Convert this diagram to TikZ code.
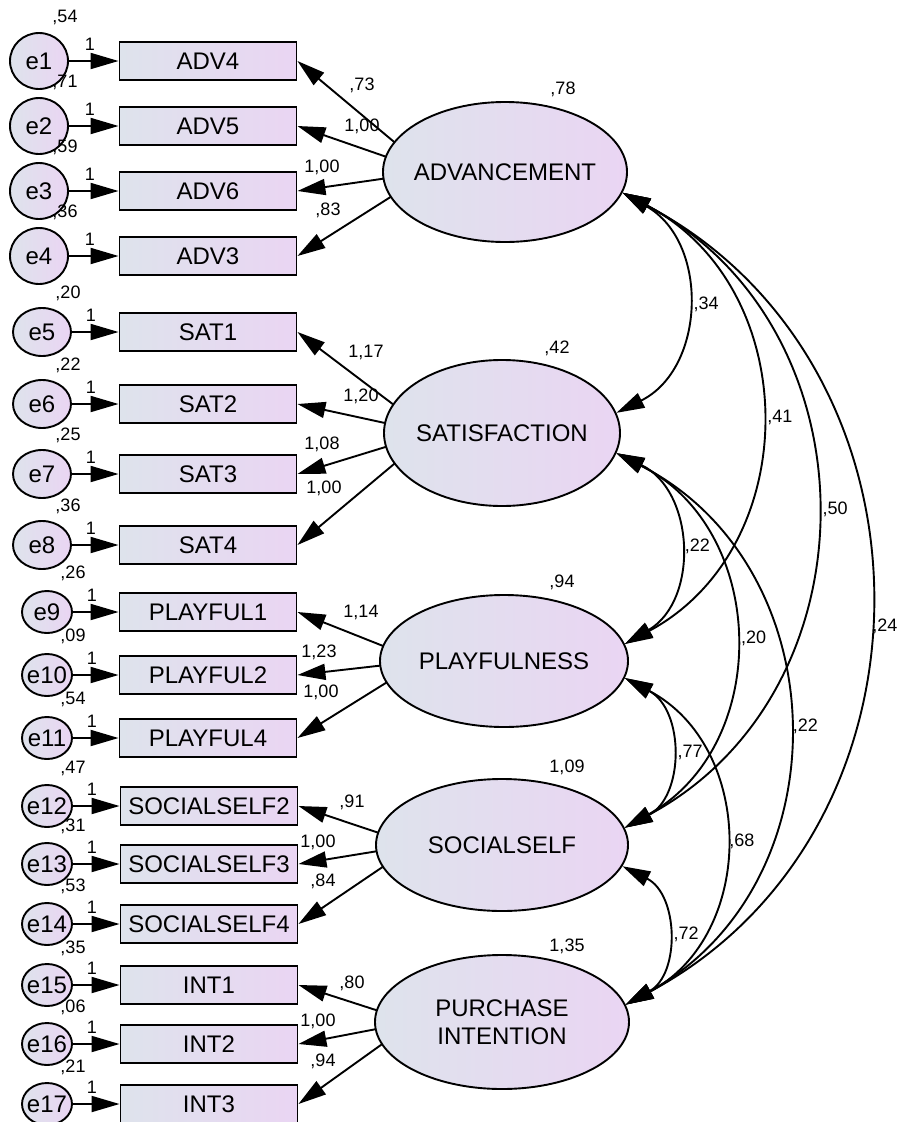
\documentclass[tikz,border=0pt]{standalone}
\usepackage{fontspec}
\setmainfont{Liberation Sans}
\usetikzlibrary{arrows.meta,shapes.geometric,backgrounds}
\definecolor{amosL}{RGB}{222,227,236}
\definecolor{amosR}{RGB}{234,213,243}
\begin{document}
\begin{tikzpicture}[x=1pt, y=-1pt,
    >={Triangle[length=28pt,width=16pt]},
    arr/.style={->, line width=1.9pt},
    cov/.style={<->, line width=1.9pt, bend left=62, looseness=1.16},
    ind/.style={draw, line width=1.9pt, minimum width=177pt, minimum height=38pt, inner sep=0pt,
        left color=amosL, right color=amosR, font=\fontsize{24}{28}\selectfont},
    lat/.style={draw, ellipse, line width=1.9pt, inner xsep=-10pt, inner ysep=0pt, align=center,
        left color=amosL, right color=amosR, font=\fontsize{24}{28}\selectfont},
    err/.style={draw, ellipse, line width=1.9pt, inner xsep=-10pt, inner ysep=0pt,
        left color=amosL, right color=amosR, font=\fontsize{24}{28}\selectfont},
    errA/.style={err, minimum width=58pt, minimum height=56pt},
    errB/.style={err, minimum width=58pt, minimum height=48pt},
    errC/.style={err, minimum width=50pt, minimum height=42pt},
    num/.style={inner sep=0pt, font=\fontsize{18}{20}\selectfont}]
    \useasboundingbox (0,0) rectangle (897,1122);

    % Latent factors
    \node[lat, minimum width=244pt, minimum height=140pt] (adv) at (505,172) {ADVANCEMENT};
    \node[lat, minimum width=236pt, minimum height=146pt] (sat) at (502,433) {SATISFACTION};
    \node[lat, minimum width=248pt, minimum height=132pt] (play) at (504,661) {PLAYFULNESS};
    \node[lat, minimum width=252pt, minimum height=132pt] (soc) at (502,845) {SOCIALSELF};
    \node[lat, minimum width=254pt, minimum height=134pt] (pur) at (502,1022) {PURCHASE\\INTENTION};
    \node[num] (vadv) at (563,89) {,78};
    \node[num] (vsat) at (557,348) {,42};
    \node[num] (vplay) at (562,582) {,94};
    \node[num] (vsoc) at (567,767) {1,09};
    \node[num] (vpur) at (567,946) {1,35};
    \coordinate (fadv) at (430,172);
    \coordinate (fsat) at (431,433);
    \coordinate (fplay) at (421,661);
    \coordinate (fsoc) at (415,845);
    \coordinate (fpur) at (413,1022);

    % ADVANCEMENT indicators
    \foreach \i/\y/\nm/\var/\ld/\lx/\ly in {1/61/ADV4/{,54}/{,73}/362/85, 2/126/ADV5/{,71}/{1,00}/362/126,
        3/191/ADV6/{,59}/{1,00}/322/167, 4/256/ADV3/{,36}/{,83}/328/210}{
        \node[errA] (e\i) at (39,\y) {e\i};
        \node[ind] (x\i) at (208,\y) {\nm};
        \node[num] (one\i) at (90,\y-17) {1};
        \node[num] (v\i) at (65,\y-44) {\var};
        \node[num] (l\i) at (\lx,\ly) {\ld};
        \draw[arr] (e\i) -- (x\i);
        \scoped[on background layer] \draw[arr] (fadv) -- (x\i.east);
    }

    % SATISFACTION indicators
    \foreach \i/\y/\nm/\var/\ld/\lx/\ly in {5/332/SAT1/{,20}/{1,17}/366/352, 6/404/SAT2/{,22}/{1,20}/361/396,
        7/474/SAT3/{,25}/{1,08}/322/444, 8/545/SAT4/{,36}/{1,00}/324/488}{
        \node[errB] (e\i) at (42,\y) {e\i};
        \node[ind] (x\i) at (208,\y) {\nm};
        \node[num] (one\i) at (91,\y-17) {1};
        \node[num] (v\i) at (68,\y-39) {\var};
        \node[num] (l\i) at (\lx,\ly) {\ld};
        \draw[arr] (e\i) -- (x\i);
        \scoped[on background layer] \draw[arr] (fsat) -- (x\i.east);
    }

    % PLAYFULNESS indicators
    \foreach \i/\y/\nm/\var/\ld/\lx/\ly in {9/612/PLAYFUL1/{,26}/{1,14}/361/612, 10/675/PLAYFUL2/{,09}/{1,23}/319/652,
        11/738/PLAYFUL4/{,54}/{1,00}/321/692}{
        \node[errC] (e\i) at (47,\y) {e\i};
        \node[ind] (x\i) at (208,\y) {\nm};
        \node[num] (one\i) at (92,\y-17) {1};
        \node[num] (v\i) at (73,\y-39) {\var};
        \node[num] (l\i) at (\lx,\ly) {\ld};
        \draw[arr] (e\i) -- (x\i);
        \scoped[on background layer] \draw[arr] (fplay) -- (x\i.east);
    }

    % SOCIALSELF indicators
    \foreach \i/\y/\nm/\var/\ld/\lx/\ly in {12/806/SOCIALSELF2/{,47}/{,91}/352/802, 13/864/SOCIALSELF3/{,31}/{1,00}/318/842,
        14/924/SOCIALSELF4/{,53}/{,84}/323/881}{
        \node[errC] (e\i) at (47,\y) {e\i};
        \node[ind] (x\i) at (209,\y) {\nm};
        \node[num] (one\i) at (92,\y-17) {1};
        \node[num] (v\i) at (73,\y-38) {\var};
        \node[num] (l\i) at (\lx,\ly) {\ld};
        \draw[arr] (e\i) -- (x\i);
        \scoped[on background layer] \draw[arr] (fsoc) -- (x\i.east);
    }

    % PURCHASE INTENTION indicators
    \foreach \i/\y/\nm/\var/\ld/\lx/\ly in {15/985/INT1/{,35}/{,80}/352/983, 16/1044/INT2/{,06}/{1,00}/318/1021,
        17/1104/INT3/{,21}/{,94}/323/1061}{
        \node[errC] (e\i) at (47,\y) {e\i};
        \node[ind] (x\i) at (209,\y) {\nm};
        \node[num] (one\i) at (92,\y-17) {1};
        \node[num] (v\i) at (73,\y-37) {\var};
        \node[num] (l\i) at (\lx,\ly) {\ld};
        \draw[arr] (e\i) -- (x\i);
        \scoped[on background layer] \draw[arr] (fpur) -- (x\i.east);
    }

    % Covariances
    \draw[cov] (adv.-10) to node[num, right=7pt] (c1) {,34} (sat.10);
    \draw[cov] (adv.-10) to node[num, right=7pt] (c2) {,41} (play.8);
    \draw[cov] (adv.-10) to node[num, right=7pt] (c3) {,50} (soc.8);
    \draw[cov] (adv.-10) to node[num, right=4pt, pos=0.53] (c4) {,24} (pur.8);
    \draw[cov] (sat.-10) to node[num, right=6pt] (c5) {,22} (play.8);
    \draw[cov] (sat.-10) to node[num, right=7pt] (c6) {,20} (soc.8);
    \draw[cov] (sat.-10) to node[num, right=5pt] (c7) {,22} (pur.8);
    \draw[cov] (play.-8) to node[num, right=7pt] (c8) {,77} (soc.8);
    \draw[cov] (play.-8) to node[num, right=5pt] (c9) {,68} (pur.8);
    \draw[cov] (soc.-10) to node[num, right=7pt] (c10) {,72} (pur.8);

\end{tikzpicture}
\end{document}
